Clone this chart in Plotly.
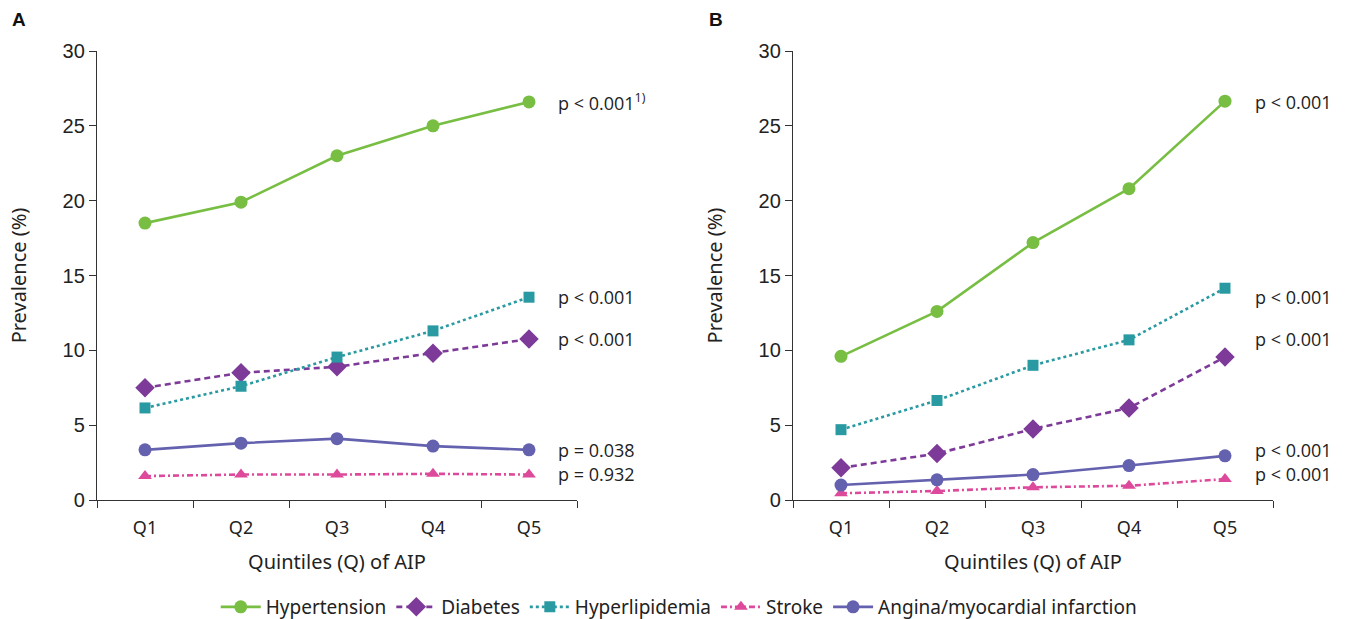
import plotly.graph_objects as go

quintiles = ["Q1", "Q2", "Q3", "Q4", "Q5"]
series_names = ["Hypertension", "Diabetes", "Hyperlipidemia", "Stroke", "Angina/myocardial infarction"]

# Panel A
a_hypertension = [18.5, 19.9, 23.0, 25.0, 26.6]
a_diabetes = [7.5, 8.5, 8.9, 9.8, 10.75]
a_hyperlipidemia = [6.15, 7.6, 9.55, 11.3, 13.55]
a_stroke = [1.6, 1.7, 1.7, 1.75, 1.7]
a_angina = [3.35, 3.8, 4.1, 3.6, 3.35]

# Panel B
b_hypertension = [9.6, 12.6, 17.2, 20.8, 26.65]
b_diabetes = [2.15, 3.1, 4.75, 6.15, 9.55]
b_hyperlipidemia = [4.7, 6.65, 9.0, 10.7, 14.15]
b_stroke = [0.45, 0.6, 0.85, 0.95, 1.4]
b_angina = [1.0, 1.35, 1.7, 2.3, 2.95]

a_pvalues = ["p < 0.001<sup>1)</sup>", "p < 0.001", "p < 0.001", "p = 0.038", "p = 0.932"]
b_pvalues = ["p < 0.001", "p < 0.001", "p < 0.001", "p < 0.001", "p < 0.001"]
pvalue_y = [26.6, 13.55, 10.75, 3.35, 1.75]

colors = ["#77BE43", "#7D3A98", "#2A9AA2", "#DE4A9B", "#6461AF"]
dashes = ["solid", "6px,4px", "dot", "6px,3px,2px,3px", "solid"]
symbols = ["circle", "diamond", "square", "triangle-up", "circle"]
msizes = [13, 15, 11, 12, 13]

fig = go.Figure()
panelA = [a_hypertension, a_diabetes, a_hyperlipidemia, a_stroke, a_angina]
panelB = [b_hypertension, b_diabetes, b_hyperlipidemia, b_stroke, b_angina]

for axes, data, show in [(("x", "y"), panelA, True), (("x2", "y2"), panelB, False)]:
    for i, name in enumerate(series_names):
        fig.add_trace(go.Scatter(
            x=quintiles, y=data[i], name=name, mode="lines+markers",
            xaxis=axes[0], yaxis=axes[1], showlegend=show, legendgroup=name,
            line=dict(color=colors[i], width=2.6, dash=dashes[i]),
            marker=dict(color=colors[i], symbol=symbols[i], size=msizes[i]),
        ))

tickfont = dict(family="Liberation Sans, Arial", size=20, color="#222")
catfont = dict(family="Noto Sans", size=18, color="#222")
titlefont = dict(family="Noto Sans", size=20, color="#222")

def xax(domain, anchor):
    return dict(domain=domain, anchor=anchor, type="category", range=[-0.5, 4.5],
                tickson="boundaries", ticks="outside", ticklen=7, tickwidth=1.2,
                tickcolor="#333", showline=True, linecolor="#333", linewidth=1.3,
                showgrid=False, zeroline=False, tickfont=catfont, automargin=False,
                ticklabelstandoff=11,
                title=dict(text="Quintiles (Q) of AIP", font=titlefont, standoff=17))

def yax(domain, anchor):
    return dict(domain=domain, anchor=anchor, range=[0, 30], tickvals=[0, 5, 10, 15, 20, 25, 30],
                ticks="outside", ticklen=7, tickwidth=1.2, tickcolor="#333", automargin=False,
                showline=True, linecolor="#333", linewidth=1.3, showgrid=False, zeroline=False,
                tickfont=tickfont, title=dict(text="Prevalence (%)", font=titlefont, standoff=30))

ydom = [1 - 500 / 619, 1 - 51 / 619]
fig.update_layout(
    width=1345, height=619, margin=dict(l=0, r=0, t=0, b=0, autoexpand=False),
    paper_bgcolor="white", plot_bgcolor="white",
    xaxis=xax([97 / 1345, 577 / 1345], "y"),
    yaxis=yax(ydom, "x"),
    xaxis2=xax([793 / 1345, 1273 / 1345], "y2"),
    yaxis2=yax(ydom, "x2"),
    legend=dict(orientation="h", x=0.505, xanchor="center", y=12 / 619, yanchor="middle",
                font=dict(family="Noto Sans", size=19, color="#222"), itemwidth=40,
                tracegroupgap=0),
)

annots = []
for xpos, texts in [(556 / 1345, a_pvalues), (1253 / 1345, b_pvalues)]:
    ax = "y" if xpos < 0.5 else "y2"
    for t, yv in zip(texts, pvalue_y):
        annots.append(dict(text=t, x=xpos, xref="paper", y=yv, yref=ax, xanchor="left",
                           yanchor="middle", showarrow=False,
                           font=dict(family="Open Sans", size=18, color="#222")))
annots.append(dict(text="<b>A</b>", x=10 / 1345, y=1 - 20 / 619, xref="paper", yref="paper",
                   xanchor="left", yanchor="middle", showarrow=False,
                   font=dict(family="Liberation Sans, Arial", size=19, color="#111")))
annots.append(dict(text="<b>B</b>", x=707 / 1345, y=1 - 20 / 619, xref="paper", yref="paper",
                   xanchor="left", yanchor="middle", showarrow=False,
                   font=dict(family="Liberation Sans, Arial", size=19, color="#111")))
fig.update_layout(annotations=annots)

fig.write_html("out.html", config={"displayModeBar": False},
               post_script="document.body.style.margin='0';document.body.style.overflow='hidden';")
